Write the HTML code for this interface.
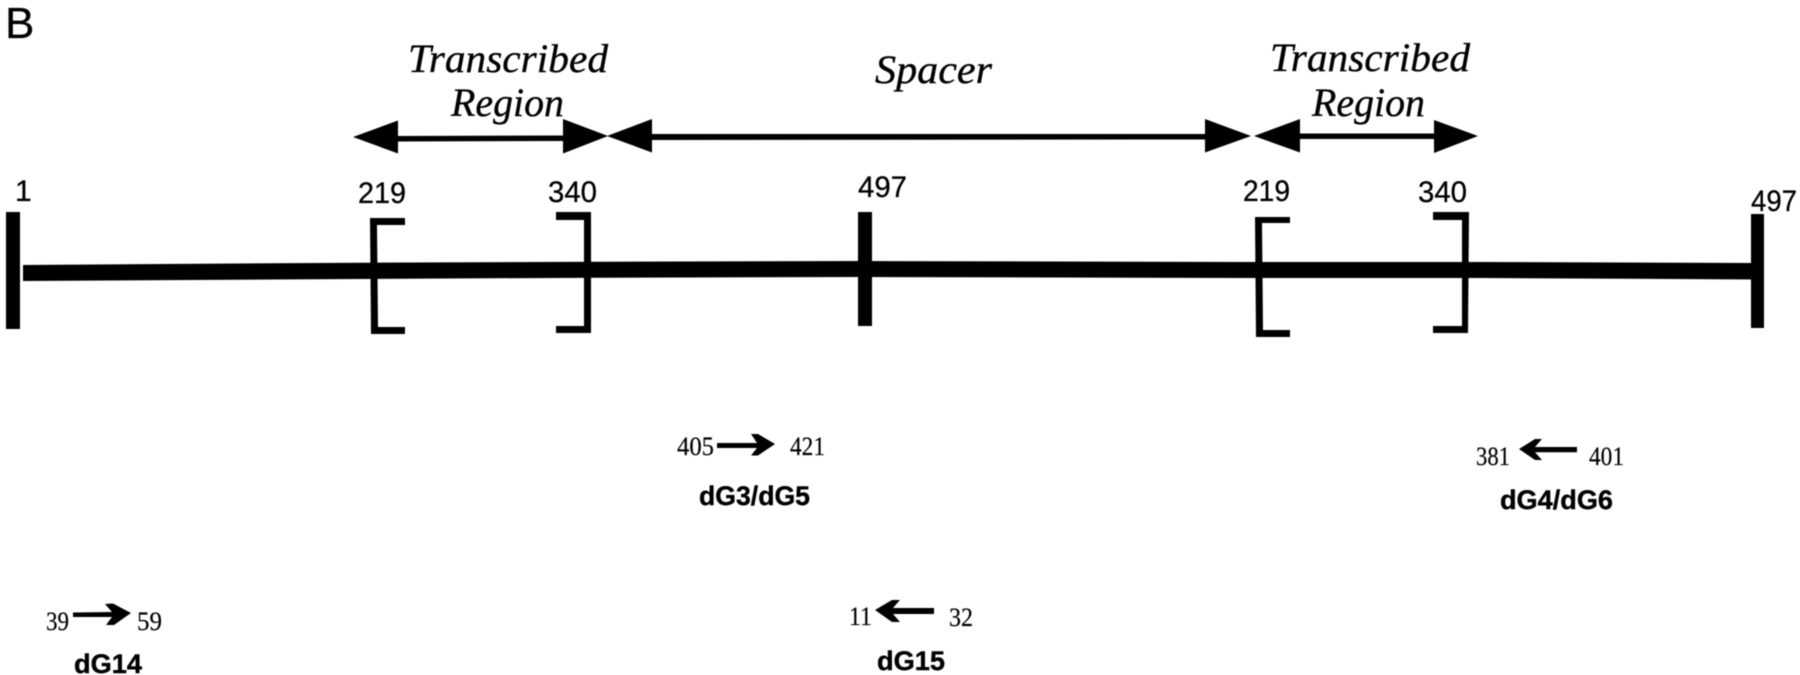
<!DOCTYPE html>
<html>
<head>
<meta charset="utf-8">
<style>
html,body{margin:0;padding:0;background:#fff;width:1800px;height:675px;overflow:hidden}
svg{display:block}
.n{font-family:"Liberation Sans",sans-serif;font-size:30px;fill:#000;stroke:#000;stroke-width:.3}
.i{font-family:"Liberation Serif",serif;font-style:italic;font-size:40px;fill:#000;stroke:#000;stroke-width:.35}
.t{font-family:"Liberation Serif",serif;font-size:26px;fill:#000;stroke:#000;stroke-width:.2}
.b{font-family:"Liberation Sans",sans-serif;font-weight:bold;font-size:27px;fill:#000;stroke:#000;stroke-width:.4}
</style>
</head>
<body>
<svg width="1800" height="675" viewBox="0 0 1800 675" xmlns="http://www.w3.org/2000/svg">
<defs><filter id="s" x="-2%" y="-2%" width="104%" height="104%"><feGaussianBlur stdDeviation="0.4"/></filter></defs>
<rect width="1800" height="675" fill="#fff"/>
<g filter="url(#s)">
<g fill="#000">
<!-- main bar -->
<polygon points="23,265 360,262.700 600,261.700 860,261 1245,262 1485,262 1755,263 1755,279.500 1485,278 1245,278 860,277 600,277.700 360,279 23,281"/>
<!-- ticks -->
<rect x="6" y="212" width="14" height="117"/>
<rect x="858" y="212" width="14" height="114"/>
<rect x="1751" y="214" width="13" height="114"/>
<!-- brackets -->
<polygon points="370,218 405,218 405,225 377,225 378,327 405,327 405,334 371,334"/>
<polygon points="556,212 591,212 591,333 556,333 556,326 584,326 584,220 556,220"/>
<polygon points="1255,217 1290,217 1290,223 1262,223 1263,330 1290,330 1290,337 1256,337"/>
<polygon points="1433,212 1469,212 1468,333 1433,333 1433,326 1462,326 1462,220 1433,220"/>
<!-- double arrows -->
<polygon points="353,137 398,120.500 398,136 563,135.500 563,119 608,136 563,153.500 563,141 398,141.500 398,153.500"/>
<polygon points="607,136 652,119 652,134 1205,134 1205,119 1251,136 1205,152.500 1205,139.500 652,140 652,152.500"/>
<polygon points="1254,136 1300,119 1300,133.500 1434,133.500 1434,120 1478,136 1434,153 1434,139 1300,139 1300,152.500"/>
<!-- small arrows -->
<polygon points="717,443 757,443 751,434 758,434 775,444 758,455.500 751,455.500 757,448 717,448"/>
<polygon points="73,612.500 112,612 105,604 113,603.500 131,613 114,625 106,625 112,617 73,617"/>
<polygon points="1577,447 1535,447 1542,439 1535,439 1519,449 1535,460 1542,460 1535,452.300 1577,452.300"/>
<polygon points="934,608 893,608 900,600 892,600 875,610 892,622 900,622 893,614 934,614"/>
</g>
<!-- labels -->
<text x="5" y="38" class="n" style="font-size:44px">B</text>
<text x="15" y="201" class="n">1</text>
<text x="358" y="203" class="n" textLength="48" lengthAdjust="spacingAndGlyphs">219</text>
<text x="548" y="202" class="n" textLength="49" lengthAdjust="spacingAndGlyphs">340</text>
<text x="858" y="197" class="n" textLength="49" lengthAdjust="spacingAndGlyphs">497</text>
<text x="1243" y="201" class="n" textLength="47" lengthAdjust="spacingAndGlyphs">219</text>
<text x="1418" y="202" class="n" textLength="49" lengthAdjust="spacingAndGlyphs">340</text>
<text x="1751" y="211" class="n" textLength="46" lengthAdjust="spacingAndGlyphs">497</text>
<text x="408" y="72" class="i" textLength="200" lengthAdjust="spacingAndGlyphs">Transcribed</text>
<text x="451" y="116" class="i" textLength="113" lengthAdjust="spacingAndGlyphs">Region</text>
<text x="875" y="83" class="i" textLength="117" lengthAdjust="spacingAndGlyphs">Spacer</text>
<text x="1270" y="71" class="i" textLength="200" lengthAdjust="spacingAndGlyphs">Transcribed</text>
<text x="1312" y="116" class="i" textLength="113" lengthAdjust="spacingAndGlyphs">Region</text>
<text x="677" y="455" class="t" textLength="37" lengthAdjust="spacingAndGlyphs">405</text>
<text x="790" y="455" class="t" textLength="35" lengthAdjust="spacingAndGlyphs">421</text>
<text x="699" y="505" class="b" textLength="111" lengthAdjust="spacingAndGlyphs">dG3/dG5</text>
<text x="1476" y="465" class="t" textLength="34" lengthAdjust="spacingAndGlyphs">381</text>
<text x="1589" y="465" class="t" textLength="35" lengthAdjust="spacingAndGlyphs">401</text>
<text x="1500" y="509" class="b" textLength="113" lengthAdjust="spacingAndGlyphs">dG4/dG6</text>
<text x="46" y="630" class="t" textLength="23" lengthAdjust="spacingAndGlyphs">39</text>
<text x="137" y="630" class="t" textLength="25" lengthAdjust="spacingAndGlyphs">59</text>
<text x="74" y="673" class="b" textLength="68" lengthAdjust="spacingAndGlyphs">dG14</text>
<text x="849" y="625" class="t" textLength="23" lengthAdjust="spacingAndGlyphs">11</text>
<text x="949" y="626" class="t" textLength="24" lengthAdjust="spacingAndGlyphs">32</text>
<text x="877" y="670" class="b" textLength="68" lengthAdjust="spacingAndGlyphs">dG15</text>
</g>
</svg>
</body>
</html>
